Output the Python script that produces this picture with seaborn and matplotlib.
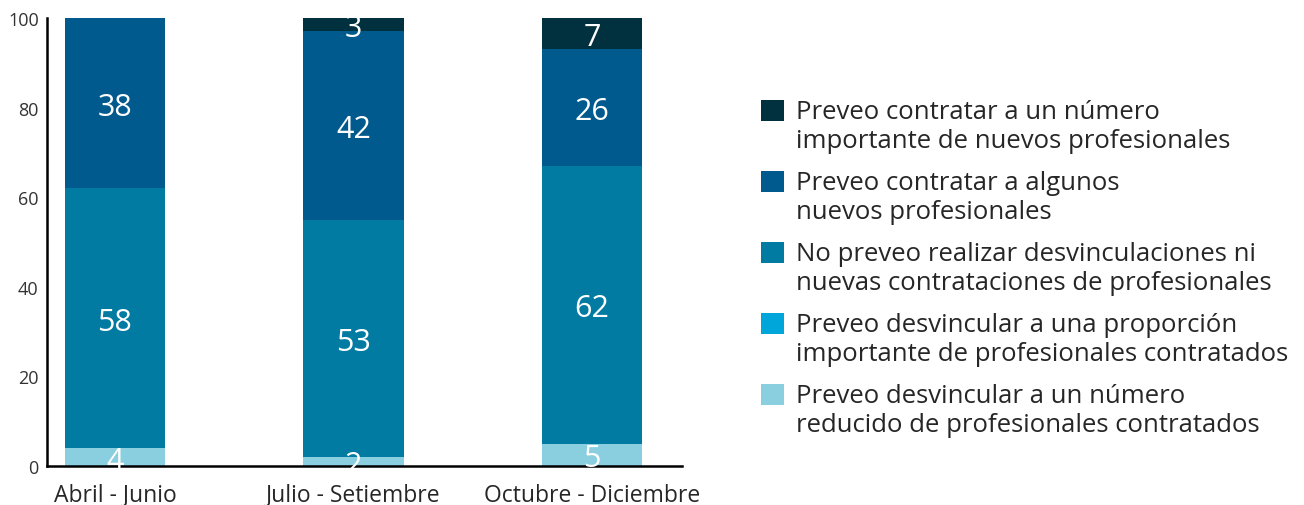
import matplotlib
matplotlib.use("Agg")
import matplotlib.pyplot as plt
from matplotlib.patches import Patch, Rectangle
from matplotlib.legend_handler import HandlerPatch
import pandas as pd
import seaborn as sns
import numpy as np

# Datos (porcentajes por trimestre)
periodos = ["Abril - Junio", "Julio - Setiembre", "Octubre - Diciembre"]
reducido = [4, 2, 5]
proporcion = [0, 0, 0]
no_preveo = [58, 53, 62]
algunos = [38, 42, 26]
importante = [0, 3, 7]

series = [
    ("Preveo desvincular a un número\nreducido de profesionales contratados", reducido, "#89CFE0"),
    ("Preveo desvincular a una proporción\nimportante de profesionales contratados", proporcion, "#00A6D9"),
    ("No preveo realizar desvinculaciones ni\nnuevas contrataciones de profesionales", no_preveo, "#017BA2"),
    ("Preveo contratar a algunos\nnuevos profesionales", algunos, "#015A8D"),
    ("Preveo contratar a un número\nimportante de nuevos profesionales", importante, "#01303F"),
]

sns.set_style("white")
plt.rcParams["font.family"] = ["Open Sans", "DejaVu Sans"]

fig = plt.figure(figsize=(13.04, 5.06), dpi=100)
ax = fig.add_axes([47 / 1304, 39 / 506, 635 / 1304, 448 / 506])

# acumulados para barras apiladas (se dibuja de arriba hacia abajo)
vals = np.array([s[1] for s in series], dtype=float)
cum = np.cumsum(vals, axis=0)

for i in range(len(series) - 1, -1, -1):
    df = pd.DataFrame({"periodo": periodos, "total": cum[i]})
    sns.barplot(data=df, x="periodo", y="total", color=series[i][2],
                saturation=1, width=0.42, ax=ax, linewidth=0)

# etiquetas de valor
for i, (name, v, col) in enumerate(series):
    for j, val in enumerate(v):
        if val > 0:
            ax.text(j, cum[i][j] - val / 2, f"{val:g}", ha="center",
                    va="center_baseline", color="white", fontsize=22)

ax.set_xlim(-0.285, 2.377)
ax.set_ylim(0, 100)
ax.set_yticks([0, 20, 40, 60, 80, 100])
ax.set_xlabel("")
ax.set_ylabel("")
for s in ["top", "right"]:
    ax.spines[s].set_visible(False)
for s in ["left", "bottom"]:
    ax.spines[s].set_linewidth(1.8)
    ax.spines[s].set_color("black")
ax.tick_params(axis="y", direction="in", length=8, width=1.8, labelsize=13,
               labelcolor="#333333", pad=6)
ax.tick_params(axis="x", length=0, labelsize=16.5, pad=12)


# cuadrado de leyenda alineado con la primera línea del texto
def square_top(legend, orig_handle, xdescent, ydescent, width, height, fontsize):
    return Rectangle((-xdescent, -ydescent + 0.62 * fontsize), width, height)


handles = [Patch(facecolor=c, edgecolor="none", label=n) for n, _, c in series][::-1]
fig.legend(handles=handles, loc="upper left", bbox_to_anchor=(738 / 1304, 429 / 506),
           frameon=False, fontsize=18.5, handlelength=0.9, handleheight=0.9,
           handletextpad=0.45, labelspacing=0.67,
           handler_map={Patch: HandlerPatch(patch_func=square_top)})

fig.savefig("out.png", dpi=100)
